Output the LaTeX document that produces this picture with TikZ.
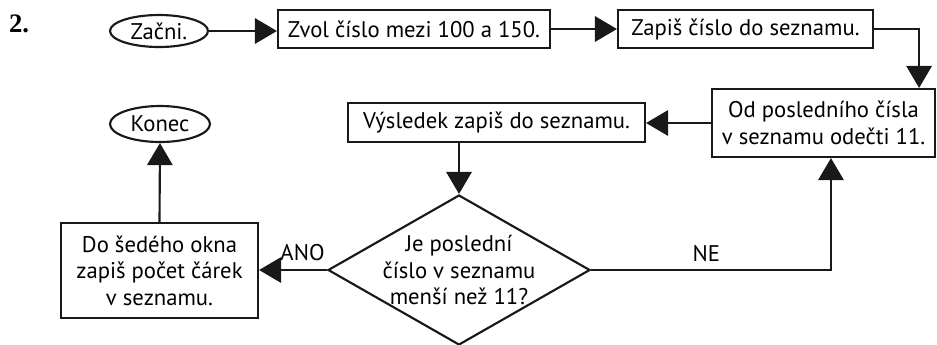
\documentclass[tikz,border=0pt]{standalone}
\usepackage{fontspec}
\setmainfont{PT Sans}
\newfontfamily\numfont{Liberation Serif}
\usepackage{tikz}
\usetikzlibrary{arrows.meta,shapes.geometric}
\tikzset{stepbox/.style={rectangle, draw=black!90, line width=1.6pt, fill=white, align=center, inner sep=2pt}, termin/.style={ellipse, draw=black!90, line width=1.6pt, inner sep=0pt}, decis/.style={diamond, draw=black!90, line width=1.6pt, align=center, aspect=1.75, inner sep=-8pt, minimum width=196.5pt, minimum height=112.5pt}, arrow/.style={-{Triangle[length=16.5pt,width=19pt]}, line width=1.6pt, draw=black!90}, answer/.style={font=\fontsize{17}{20}\selectfont}}

\begin{document}
\begin{tikzpicture}[x=0.75pt, y=-0.75pt, font=\fontsize{17}{20}\selectfont]
\useasboundingbox (0,0) rectangle (937,344);
\node[font=\numfont\fontsize{20}{22}\selectfont\bfseries] (num) at (19,24) {2.};
\node[termin, minimum width=73.5pt, minimum height=24pt] (start) at (159,31) {Začni.};
\node[stepbox, minimum width=204pt, minimum height=28.5pt] (zvol) at (414,29) {Zvol číslo mezi 100 a 150.};
\node[stepbox, minimum width=191.25pt, minimum height=28.5pt] (zapis) at (745.5,29) {Zapiš číslo do seznamu.};
\node[stepbox, minimum width=167.25pt, minimum height=51pt] (odecti) at (823.5,123) {Od posledního čísla\\v seznamu odečti 11.};
\node[stepbox, minimum width=222.75pt, minimum height=29.25pt] (vysl) at (496.5,122.5) {Výsledek zapiš do seznamu.};
\node[decis] (dotaz) at (459,270) {Je poslední\\číslo v seznamu\\menší než 11?};
\node[stepbox, minimum width=147.75pt, minimum height=71.25pt] (okno) at (159.5,270.5) {Do šedého okna\\zapiš počet čárek\\v seznamu.};
\node[termin, minimum width=75pt, minimum height=27pt] (konec) at (160,124) {Konec};
% connectors
\draw[arrow] (start.east) -- (start.east -| zvol.west);
\draw[arrow] (zvol.east) -- (zapis.west);
\draw[arrow] (zapis.east) -| ([xshift=-12.75pt]odecti.north east);
\draw[arrow] (odecti.west) -- (vysl.east |- odecti.west);
\draw[arrow] (vysl.south -| dotaz.north) -- (dotaz.north);
\draw[arrow] (dotaz.east) -| ([xshift=5.6pt]odecti.south) node[answer, pos=0.24, above=2pt] (ne) {NE};
\draw[arrow] (dotaz.west) -- (okno.east |- dotaz.west) node[answer, pos=0.36, above=3pt] (ano) {ANO};
\draw[arrow] (okno.north) -- (konec.south);
\end{tikzpicture}
\end{document}
